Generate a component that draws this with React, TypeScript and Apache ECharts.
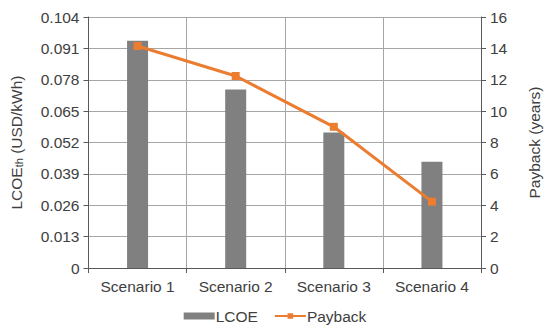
import React, { useEffect, useRef } from "react";
import * as echarts from "echarts";

const categories = ["Scenario 1", "Scenario 2", "Scenario 3", "Scenario 4"];
const lcoe = [0.0942, 0.074, 0.0561, 0.044];
const payback = [14.15, 12.24, 9.0, 4.23];

export default function App() {
  const ref = useRef<HTMLDivElement>(null);
  useEffect(() => {
    if (!ref.current) return;
    const chart = echarts.init(ref.current, null, { renderer: "svg" });
    const font = "Liberation Sans, Arial, sans-serif";
    const txt = "#404040";
    const fs = 15.5;
    chart.setOption({
      animation: false,
      textStyle: { fontFamily: font },
      grid: { left: 83, right: 60, top: 17, bottom: 68 },
      legend: {
        bottom: 7,
        left: "center",
        itemWidth: 31,
        itemHeight: 7,
        itemGap: 16,
        textStyle: { fontSize: fs, color: txt, fontFamily: font, padding: [0, 0, 0, -4] },
        data: [
          { name: "LCOE", icon: "rect" },
          { name: "Payback" },
        ],
      },
      xAxis: {
        type: "category",
        data: categories,
        boundaryGap: true,
        axisLine: { lineStyle: { color: "#595959", width: 1 } },
        axisTick: { show: true, length: 5, lineStyle: { color: "#595959" } },
        axisLabel: { fontSize: fs, color: txt, margin: 10 },
        splitLine: { show: true, lineStyle: { color: "#a6a6a6", width: 1 } },
      },
      yAxis: [
        {
          type: "value",
          min: 0,
          max: 0.104,
          interval: 0.013,
          name: "{a|LCOE}{b|th}{a| (USD/kWh)}",
          nameLocation: "middle",
          nameGap: 64,
          nameRotate: 90,
          nameTextStyle: {
            rich: {
              a: { fontSize: fs, color: txt, fontFamily: font },
              b: { fontSize: 11, color: txt, fontFamily: font, verticalAlign: "bottom", padding: [6, 0, 0, 0] },
            },
          },
          axisLine: { show: true, lineStyle: { color: "#595959" } },
          axisTick: { show: true, length: 5, lineStyle: { color: "#595959" } },
          axisLabel: {
            fontSize: fs,
            color: txt,
            margin: 9,
            formatter: (v: number) => (v === 0 ? "0" : v.toFixed(3)),
          },
          splitLine: { show: true, lineStyle: { color: "#a6a6a6", width: 1 } },
        },
        {
          type: "value",
          min: 0,
          max: 16,
          interval: 2,
          name: "Payback (years)",
          nameLocation: "middle",
          nameGap: 45,
          nameRotate: 90,
          nameTextStyle: { fontSize: fs, color: txt },
          axisLine: { show: true, lineStyle: { color: "#595959" } },
          axisTick: { show: true, length: 5, lineStyle: { color: "#595959" } },
          axisLabel: { fontSize: fs, color: txt, margin: 9 },
          splitLine: { show: false },
        },
      ],
      series: [
        {
          name: "LCOE",
          type: "bar",
          data: lcoe,
          barWidth: 21,
          itemStyle: { color: "#808080" },
          yAxisIndex: 0,
        },
        {
          name: "Payback",
          type: "line",
          data: payback,
          yAxisIndex: 1,
          symbol: "rect",
          symbolSize: 8,
          lineStyle: { color: "#EC7C30", width: 3 },
          itemStyle: { color: "#EC7C30" },
        },
      ],
    });
    return () => chart.dispose();
  }, []);
  return <div ref={ref} style={{ width: 550, height: 336, position: "absolute", left: 0, top: 0 }} />;
}
